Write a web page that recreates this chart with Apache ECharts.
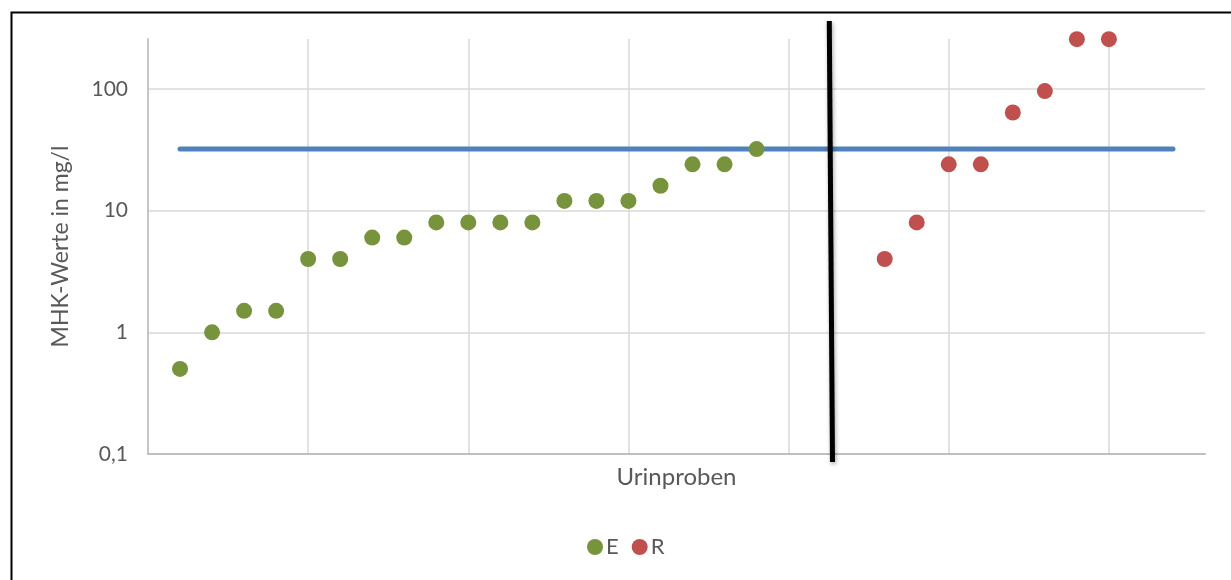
<!DOCTYPE html>
<html><head><meta charset="utf-8">
<script src="https://cdn.jsdelivr.net/npm/echarts@6/dist/echarts.min.js"></script>
<style>html,body{margin:0;padding:0;background:#fff;}#c{width:1231px;height:580px;}</style>
</head><body><div id="c"></div>
<script>
// Sample index (Urinproben) and MHK values (mg/l)
const eX = [1, 2, 3, 4, 5, 6, 7, 8, 9, 10, 11, 12, 13, 14, 15, 16, 17, 18, 19];
const eY = [0.5, 1, 1.5, 1.5, 4, 4, 6, 6, 8, 8, 8, 8, 12, 12, 12, 16, 24, 24, 32];
const rX = [23, 24, 25, 26, 27, 28, 29, 30];
const rY = [4, 8, 24, 24, 64, 96, 256, 256];
// Threshold line
const limitX = [1, 32];
const limitY = [32, 32];
// Divider line between groups
const dividerX = [21.27, 21.37];
const dividerY = [362, 0.086];

const zip = (xs, ys) => xs.map((x, i) => [x, ys[i]]);
const txt = '#595959';
const font = 'Lato, "Open Sans", sans-serif';

const chart = echarts.init(document.getElementById('c'), null, {renderer: 'canvas'});
chart.setOption({
  animation: false,
  backgroundColor: '#fff',
  textStyle: {fontFamily: font},
  graphic: [{
    type: 'rect', left: 9, top: 10, silent: true, z: -10,
    shape: {width: 1250, height: 600},
    style: {fill: 'none', stroke: '#000', lineWidth: 2}
  }],
  grid: {left: 148, right: 26, top: 39, bottom: 126, containLabel: false},
  legend: {
    data: ['E', 'R'], bottom: 17, left: 582, icon: 'circle',
    itemWidth: 16, itemHeight: 16, itemGap: 13,
    textStyle: {color: txt, fontSize: 22, fontFamily: font, padding: [0, 0, 0, -2]}
  },
  xAxis: {
    type: 'value', min: 0, max: 33, interval: 5,
    name: 'Urinproben', nameLocation: 'middle', nameGap: 11,
    nameTextStyle: {color: txt, fontSize: 24, fontFamily: font, verticalAlign: 'top'},
    axisLabel: {show: false}, axisTick: {show: false},
    axisLine: {show: true, lineStyle: {color: '#bfbfbf', width: 2}},
    splitLine: {show: true, showMaxLine: false, lineStyle: {color: '#d9d9d9', width: 1.5}}
  },
  yAxis: {
    type: 'log', logBase: 10, min: 0.1, max: 257,
    name: 'MHK-Werte in mg/l', nameLocation: 'middle', nameGap: 76,
    nameTextStyle: {color: txt, fontSize: 23, fontFamily: font},
    axisLabel: {color: txt, fontSize: 21, fontFamily: font, margin: 20, showMaxLabel: false,
      formatter: v => String(v).replace('.', ',')},
    axisTick: {show: false},
    axisLine: {show: true, lineStyle: {color: '#c6c6c6', width: 2}},
    splitLine: {show: true, showMaxLine: false, lineStyle: {color: '#d9d9d9', width: 1.5}}
  },
  series: [
    {name: 'Grenzwert', type: 'line', data: zip(limitX, limitY), symbol: 'none', z: 2,
      lineStyle: {color: '#4F81BD', width: 5, cap: 'round'}},
    {name: 'E', type: 'scatter', data: zip(eX, eY), symbolSize: 16, z: 3,
      itemStyle: {color: '#77933C', opacity: 1}},
    {name: 'R', type: 'scatter', data: zip(rX, rY), symbolSize: 16, z: 3,
      itemStyle: {color: '#C0504D', opacity: 1}},
    {name: 'Trennung', type: 'line', data: zip(dividerX, dividerY), symbol: 'none', clip: false, z: 5,
      lineStyle: {color: '#000', width: 5, shadowColor: 'rgba(0,0,0,0.35)', shadowBlur: 4, shadowOffsetX: 1, shadowOffsetY: 2}}
  ]
});
</script></body></html>
